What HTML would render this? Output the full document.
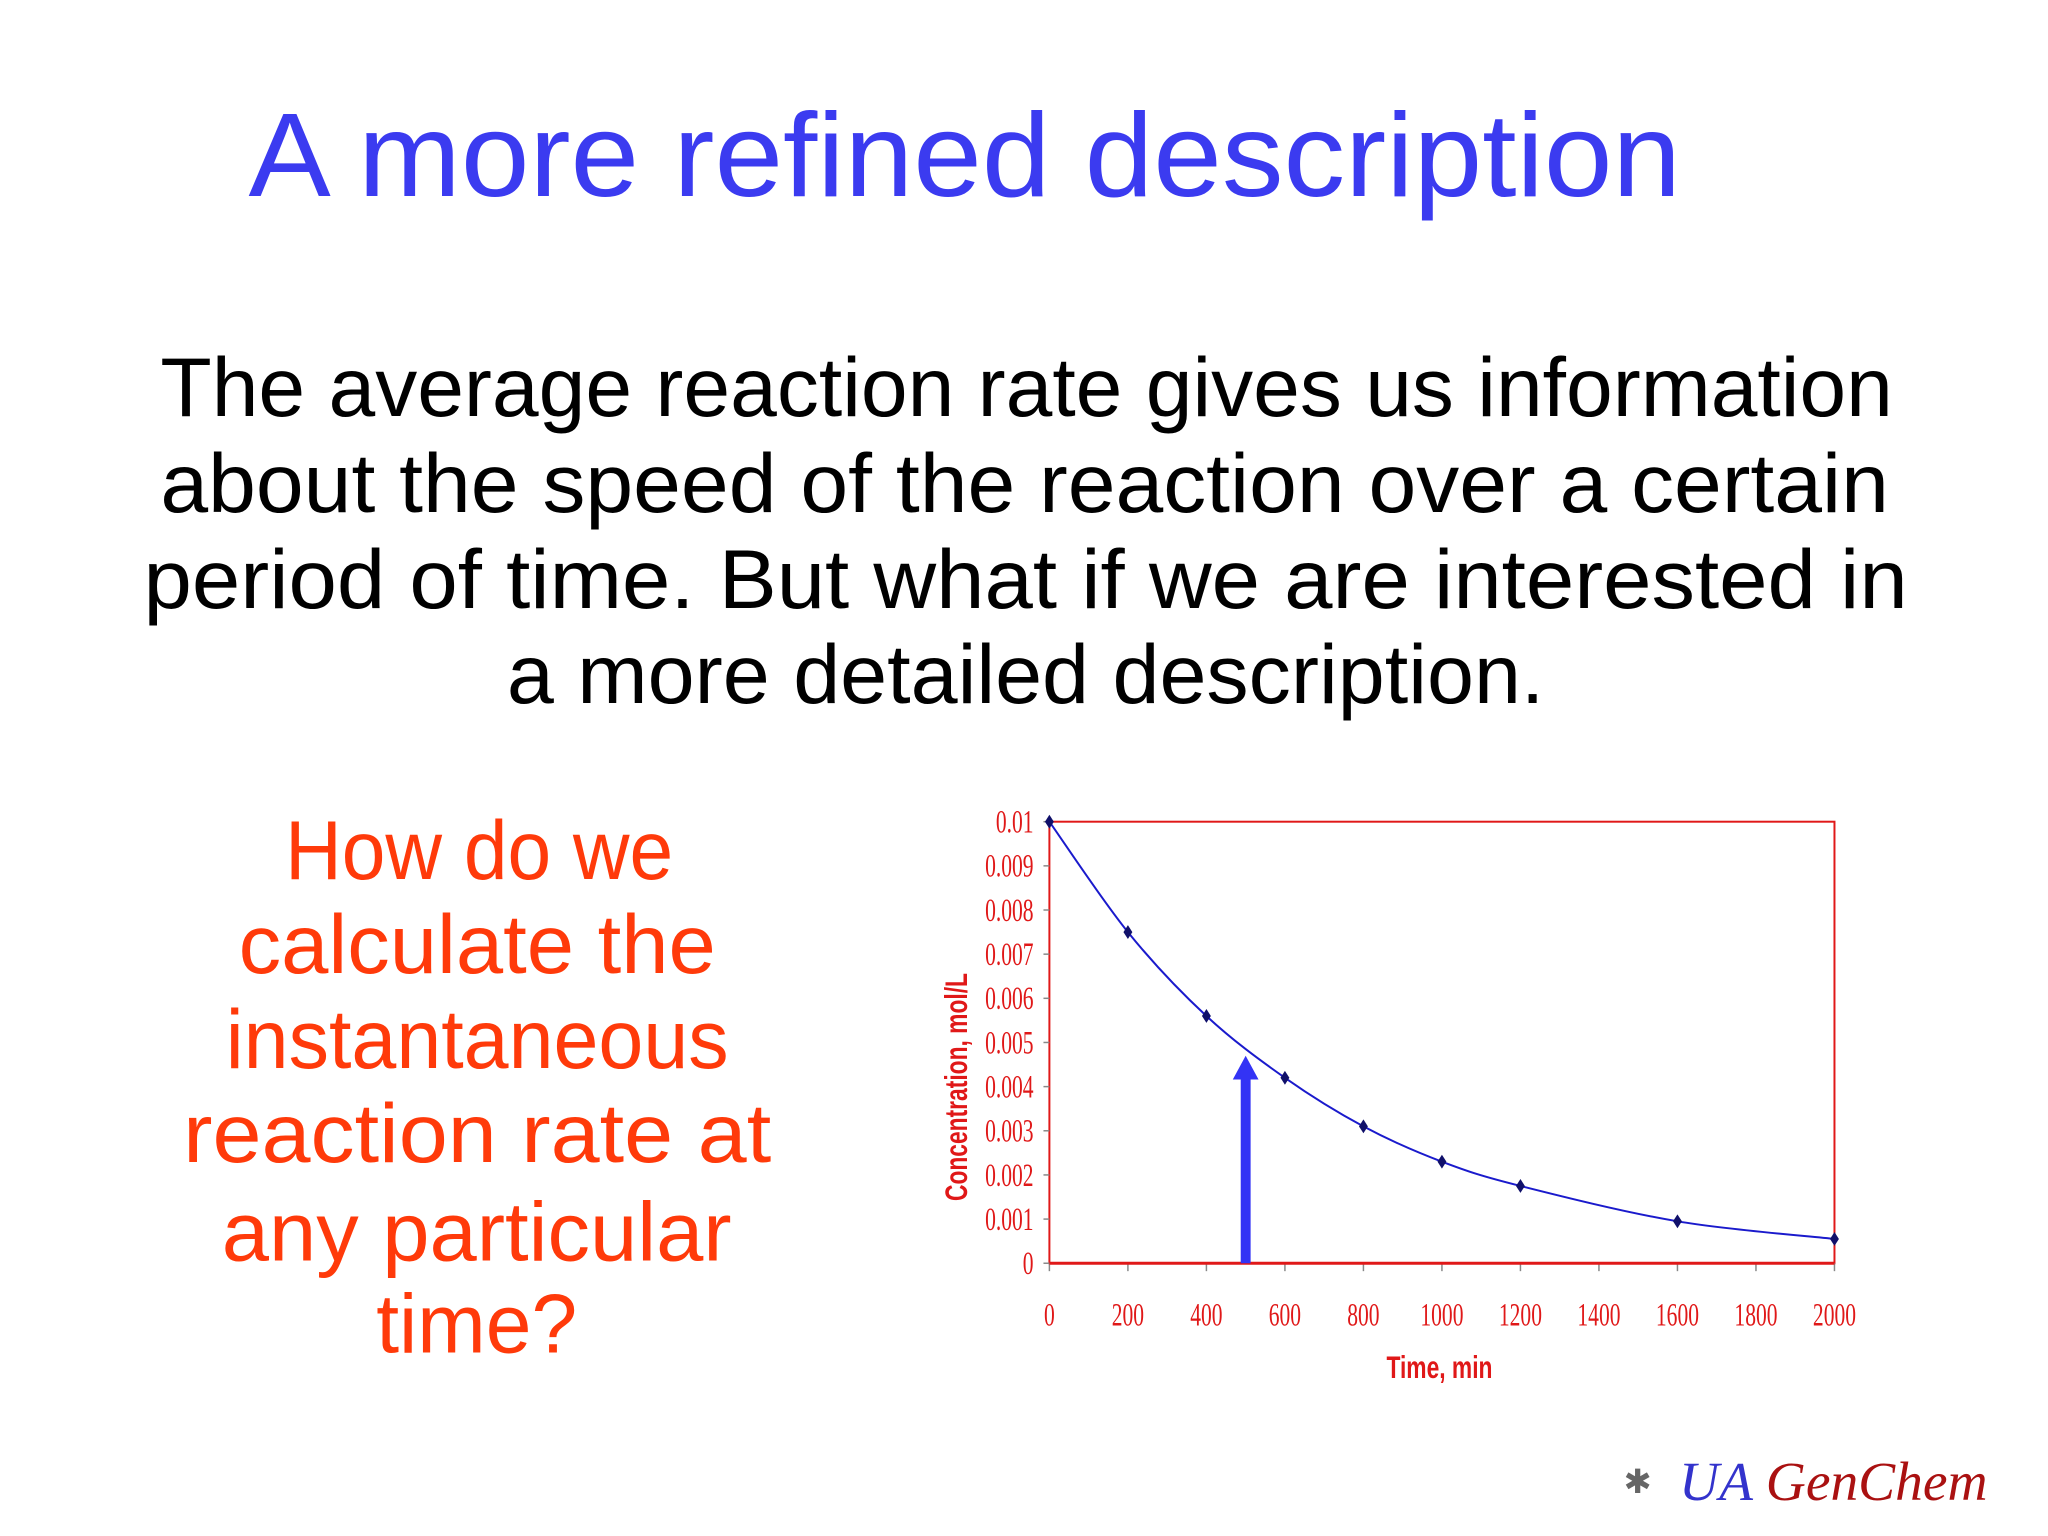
<!DOCTYPE html>
<html><head><meta charset="utf-8"><style>html,body{margin:0;padding:0;background:#fff}svg{display:block}</style></head>
<body>
<svg id="slide" width="2048" height="1536" viewBox="0 0 2048 1536" xmlns="http://www.w3.org/2000/svg" font-family="'Liberation Sans', sans-serif">
<rect width="2048" height="1536" fill="#ffffff"/>
<g transform="scale(0.99)">
<text x="251" y="198" font-size="120" fill="#3b3bf0" textLength="1447" lengthAdjust="spacingAndGlyphs">A more refined description</text>
<g font-size="84" fill="#000">
<text x="162" y="420" textLength="1750" lengthAdjust="spacingAndGlyphs">The average reaction rate gives us information</text>
<text x="162" y="517" textLength="1746" lengthAdjust="spacingAndGlyphs">about the speed of the reaction over a certain</text>
<text x="145" y="614" textLength="1782" lengthAdjust="spacingAndGlyphs">period of time. But what if we are interested in</text>
<text x="512" y="710" textLength="1048" lengthAdjust="spacingAndGlyphs">a more detailed description.</text>
</g>
<g font-size="84" fill="#ff3a0a">
<text x="288" y="888" textLength="392" lengthAdjust="spacingAndGlyphs">How do we</text>
<text x="241" y="983" textLength="482" lengthAdjust="spacingAndGlyphs">calculate the</text>
<text x="228" y="1079" textLength="508" lengthAdjust="spacingAndGlyphs">instantaneous</text>
<text x="185" y="1174" textLength="594" lengthAdjust="spacingAndGlyphs">reaction rate at</text>
<text x="224" y="1273" textLength="515" lengthAdjust="spacingAndGlyphs">any particular</text>
<text x="380" y="1366" textLength="203" lengthAdjust="spacingAndGlyphs">time?</text>
</g>
<g id="chart"></g>
<g>
<text x="1640" y="1508" font-size="34" fill="#666">✱</text>
<text x="1696" y="1515" font-family="'Liberation Serif', serif" font-style="italic" font-size="56"><tspan fill="#3333cc">UA </tspan><tspan fill="#aa1111">GenChem</tspan></text>
</g>
</g>
</svg>
<script>
const times=[0,200,400,600,800,1000,1200,1600,2000];
const conc=[0.01,0.0075,0.0056,0.0042,0.0031,0.0023,0.00175,0.00095,0.00055];
const yTicks=[0,0.001,0.002,0.003,0.004,0.005,0.006,0.007,0.008,0.009,0.01];
const yTickLabels=["0","0.001","0.002","0.003","0.004","0.005","0.006","0.007","0.008","0.009","0.01"];
const xTicks=[0,200,400,600,800,1000,1200,1400,1600,1800,2000];
const arrowTime=[500];
const arrowTop=[0.0047];
const NS="http://www.w3.org/2000/svg";
const L=1060,R=1853,T=830,B=1276;
const xs=v=>L+(v-0)/(2000-0)*(R-L);
const ys=v=>B-(v-0)/(0.01-0)*(B-T);
const g=document.getElementById('chart');
function mk(t,a,p){const e=document.createElementNS(NS,t);for(const k in a)e.setAttribute(k,a[k]);(p||g).appendChild(e);return e;}
const frame=mk('rect',{x:L,y:T,width:R-L,height:B-T,fill:'none',stroke:'#e01818','stroke-width':2});


yTicks.forEach((v,i)=>{
  mk('line',{x1:L-6,x2:L,y1:ys(v),y2:ys(v),stroke:'#888','stroke-width':1.5});
  const t=mk('text',{x:L-16,y:ys(v)+11,'text-anchor':'end','font-family':"'Liberation Serif', serif",'font-size':33,fill:'#e01818',transform:`translate(${L-16},0) scale(0.66,1) translate(${-(L-16)},0)`});
  t.textContent=yTickLabels[i];
  
  
});
xTicks.forEach(v=>{
  mk('line',{x1:xs(v),x2:xs(v),y1:B,y2:B+8,stroke:'#888','stroke-width':1.5});
  const t=mk('text',{x:xs(v),y:1339,'text-anchor':'middle','font-family':"'Liberation Serif', serif",'font-size':33,fill:'#e01818',transform:`translate(${xs(v)},0) scale(0.66,1) translate(${-xs(v)},0)`});
  t.textContent=String(v);
  
  
});
mk('line',{x1:L,x2:R,y1:B,y2:B,stroke:'#e01818','stroke-width':3});
const xt=mk('text',{x:1454,y:1392,'text-anchor':'middle','font-size':32,'font-weight':'bold',fill:'#e01818',transform:'translate(1454,0) scale(0.72,1) translate(-1454,0)'});
xt.textContent='Time, min';


const yt=mk('text',{x:0,y:0,'text-anchor':'middle','font-size':32,'font-weight':'bold',fill:'#e01818',transform:'translate(977,1098) rotate(-90) scale(0.72,1)'});
yt.textContent='Concentration, mol/L';


const P=times.map((t,i)=>[xs(t),ys(conc[i])]);
let d=`M${P[0][0]},${P[0][1]}`;
for(let i=0;i<P.length-1;i++){
  const p0=P[Math.max(0,i-1)],p1=P[i],p2=P[i+1],p3=P[Math.min(P.length-1,i+2)];
  const c1=[p1[0]+(p2[0]-p0[0])/6,p1[1]+(p2[1]-p0[1])/6];
  const c2=[p2[0]-(p3[0]-p1[0])/6,p2[1]-(p3[1]-p1[1])/6];
  d+=` C${c1[0]},${c1[1]} ${c2[0]},${c2[1]} ${p2[0]},${p2[1]}`;
}
const line=mk('path',{d:d,fill:'none',stroke:'#1a1acc','stroke-width':2});


P.forEach(p=>{
  const m=mk('path',{d:`M${p[0]},${p[1]-7} L${p[0]+4.5},${p[1]} L${p[0]},${p[1]+7} L${p[0]-4.5},${p[1]} Z`,fill:'#10106a'});
  
  
});
const ax=xs(arrowTime[0]),ay=ys(arrowTop[0]);
const arr=mk('path',{d:`M${ax-5},${B} L${ax-5},${ay+24} L${ax-13},${ay+24} L${ax},${ay} L${ax+13},${ay+24} L${ax+5},${ay+24} L${ax+5},${B} Z`,fill:'#3333f5'});


</script>
</body></html>
